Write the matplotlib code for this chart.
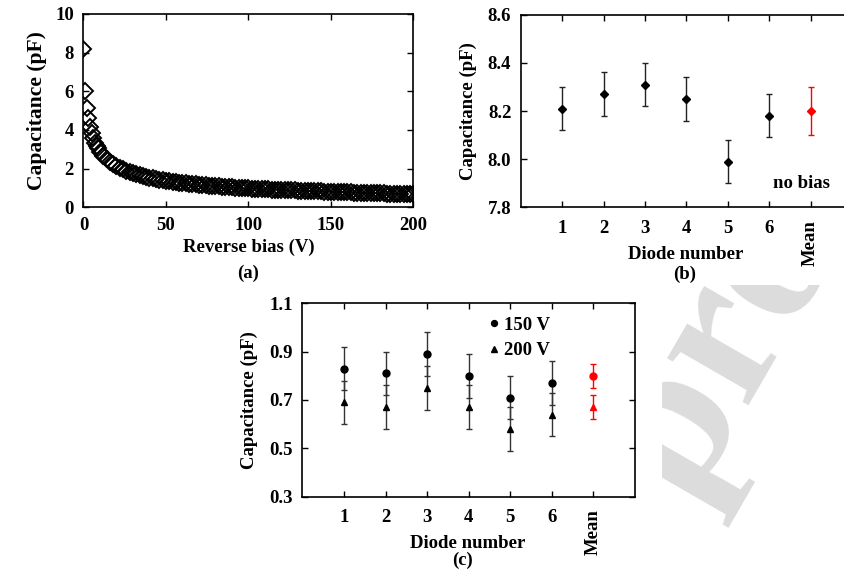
import matplotlib
matplotlib.use("Agg")
import matplotlib.pyplot as plt
from matplotlib.transforms import Bbox, TransformedBbox

plt.rcParams['font.family'] = 'serif'
plt.rcParams['font.serif'] = ['Liberation Serif', 'DejaVu Serif']
plt.rcParams['font.weight'] = 'bold'
plt.rcParams['axes.labelweight'] = 'bold'
plt.rcParams['axes.linewidth'] = 1.2

# (a) C-V sweep
bias_v = list(range(0, 11)) + list(range(12, 201, 2))
cap_pf = [8.20, 6.00, 5.15, 4.60, 4.15, 3.85, 3.60, 3.35, 3.18, 3.05, 2.88,
          2.65, 2.49, 2.36, 2.24, 2.14, 2.05, 1.97, 1.90, 1.83, 1.77,
          1.71, 1.66, 1.61, 1.57, 1.53, 1.49, 1.46, 1.43, 1.40, 1.37,
          1.35, 1.32, 1.30, 1.28, 1.26, 1.24, 1.22, 1.20, 1.18, 1.17,
          1.15, 1.14, 1.12, 1.11, 1.09, 1.08, 1.07, 1.06, 1.04, 1.03,
          1.02, 1.01, 1.00, 0.99, 0.98, 0.97, 0.96, 0.95, 0.94, 0.93,
          0.93, 0.92, 0.91, 0.90, 0.89, 0.89, 0.88, 0.87, 0.87, 0.86,
          0.85, 0.85, 0.84, 0.83, 0.83, 0.82, 0.82, 0.81, 0.81, 0.80,
          0.79, 0.79, 0.78, 0.78, 0.77, 0.77, 0.76, 0.76, 0.75, 0.75,
          0.74, 0.74, 0.73, 0.73, 0.72, 0.72, 0.71, 0.71, 0.71, 0.70,
          0.70, 0.69, 0.69, 0.68, 0.67]

# (b), (c) per-diode capacitance
diodes = ['1', '2', '3', '4', '5', '6', 'Mean']
cap_0v = [8.21, 8.27, 8.31, 8.25, 7.99, 8.18, 8.20]
err_0v = [0.09, 0.09, 0.09, 0.09, 0.09, 0.09, 0.10]
cap_150v = [0.83, 0.81, 0.89, 0.80, 0.71, 0.77, 0.80]
err_150v = [0.09, 0.09, 0.09, 0.09, 0.09, 0.09, 0.05]
cap_200v = [0.69, 0.67, 0.75, 0.67, 0.58, 0.64, 0.67]
err_200v = [0.09, 0.09, 0.09, 0.09, 0.09, 0.09, 0.05]

W, H = 845, 576
fig = plt.figure(figsize=(W / 100, H / 100), dpi=100)

def px_axes(x0, y0, x1, y1):
    return fig.add_axes([x0 / W, 1 - y1 / H, (x1 - x0) / W, (y1 - y0) / H])

def ftext(x, y, s, size=13.5, **kw):
    return fig.text(x / W, 1 - y / H, s, ha='center', va='center', fontsize=size, **kw)

def style(ax):
    ax.tick_params(direction='in', top=True, right=True, length=4, width=1,
                   labelsize=13.5, pad=7)

def diode_axis(ax):
    pos = list(range(1, len(diodes) + 1))
    ax.set_xticks(pos)
    ax.set_xticklabels(diodes)
    ax.set_xlim(0, 8)
    lab = ax.get_xticklabels()[-1]
    lab.set_rotation(90)
    lab.set_va('top')
    return pos

# watermark behind everything
wm = fig.text(688 / W, 1 - 506 / H, 'proof', rotation=60, rotation_mode='anchor',
              ha='left', va='baseline', fontsize=148, color='#dcdcdc',
              fontweight='bold', family='Liberation Serif', zorder=0)
wm.set_clip_box(TransformedBbox(Bbox([[662 / W, 0], [1, 1 - 285 / H]]), fig.transFigure))
wm.set_clip_on(True)

# (a)
ax1 = px_axes(83.5, 14, 413.5, 207.3)
ax1.plot(bias_v, cap_pf, ls='none', marker='D', ms=8, mfc='none', mec='black', mew=1.4)
ax1.set_xlim(0, 200)
ax1.set_ylim(0, 10)
ax1.set_xticks([0, 50, 100, 150, 200])
ax1.set_yticks([0, 2, 4, 6, 8, 10])
style(ax1)
ax1.set_xlabel('Reverse bias (V)', fontsize=13.5, labelpad=3)
ax1.set_ylabel('Capacitance (pF)', fontsize=15.5, labelpad=6)
ftext(248, 273, '(a)')

# (b)
ax2 = px_axes(521, 14.7, 852, 207.3)
pos = diode_axis(ax2)
ax2.errorbar(pos[:-1], cap_0v[:-1], yerr=err_0v[:-1], fmt='D', ms=4, color='black',
             ecolor='#222222', elinewidth=1, capsize=2)
ax2.errorbar(pos[-1:], cap_0v[-1:], yerr=err_0v[-1:], fmt='D', ms=4, color='red',
             ecolor='red', elinewidth=1, capsize=2)
ax2.set_ylim(7.8, 8.6)
ax2.set_yticks([7.8, 8.0, 8.2, 8.4, 8.6])
ax2.set_yticklabels(['7.8', '8.0', '8.2', '8.4', '8.6'])
style(ax2)
ax2.tick_params(axis='x', pad=9)
ax2.set_ylabel('Capacitance (pF)', fontsize=13.5, labelpad=8)
ax2.text(6.77, 7.90, 'no bias', ha='center', va='center', fontsize=13.5)
ftext(686, 255, 'Diode number')
ftext(685, 274, '(b)')

# (c)
ax3 = px_axes(302.5, 303.3, 635, 496.7)
pos = diode_axis(ax3)
ax3.errorbar(pos[:-1], cap_150v[:-1], yerr=err_150v[:-1], fmt='o', ms=5, color='black',
             ecolor='#333333', elinewidth=1, capsize=2, label='150 V')
ax3.errorbar(pos[:-1], cap_200v[:-1], yerr=err_200v[:-1], fmt='^', ms=5, color='black',
             ecolor='#333333', elinewidth=1, capsize=2, label='200 V')
ax3.errorbar(pos[-1:], cap_150v[-1:], yerr=err_150v[-1:], fmt='o', ms=5, color='red',
             ecolor='red', elinewidth=1, capsize=2)
ax3.errorbar(pos[-1:], cap_200v[-1:], yerr=err_200v[-1:], fmt='^', ms=5, color='red',
             ecolor='red', elinewidth=1, capsize=2)
ax3.set_ylim(0.3, 1.1)
ax3.set_yticks([0.3, 0.5, 0.7, 0.9, 1.1])
ax3.set_yticklabels(['0.3', '0.5', '0.7', '0.9', '1.1'])
style(ax3)
ax3.tick_params(axis='x', pad=9)
ax3.set_ylabel('Capacitance (pF)', fontsize=13.5, labelpad=8)
h, l = ax3.get_legend_handles_labels()
h = [x[0] for x in h]
ax3.legend(h, l, loc='upper left', bbox_to_anchor=(0.53, 0.98), frameon=False,
           handlelength=0.6, handletextpad=0.25, labelspacing=0.45, borderpad=0,
           markerscale=0.85, prop={'size': 13.5, 'weight': 'bold'})
ftext(468, 543, 'Diode number')
ftext(463, 560, '(c)')

fig.savefig('out.png', dpi=100)
